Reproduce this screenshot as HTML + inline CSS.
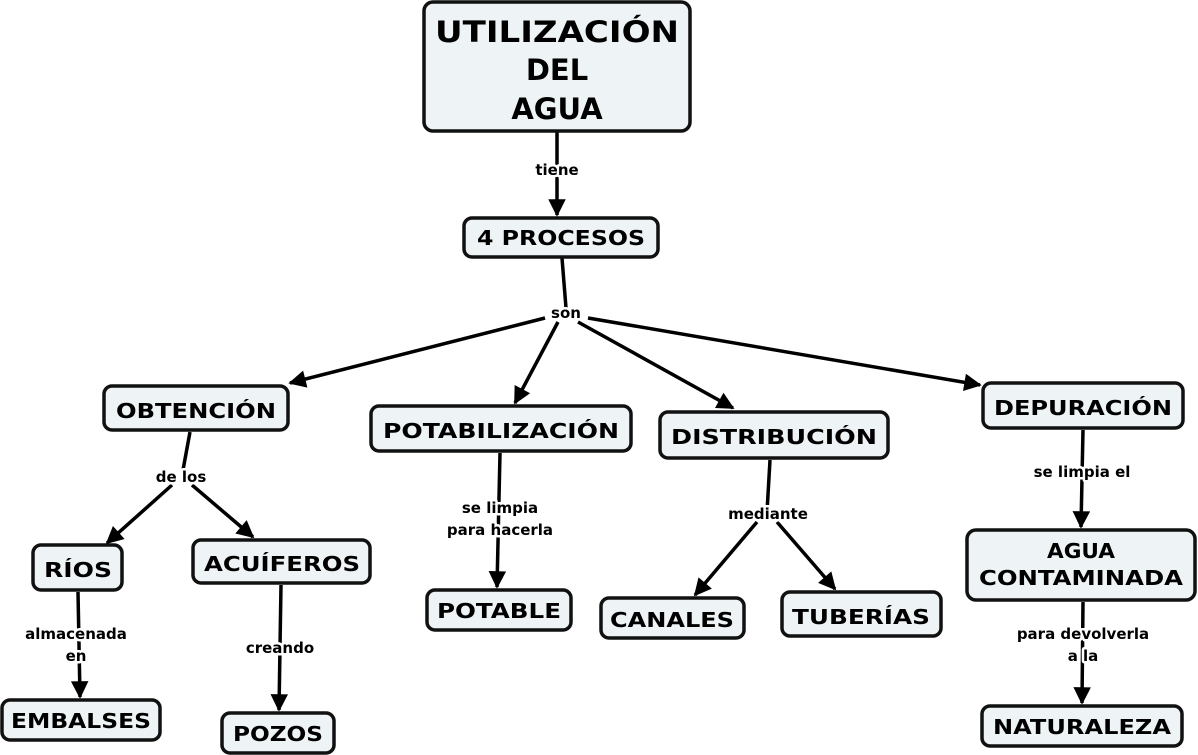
<!DOCTYPE html>
<html><head><meta charset="utf-8"><style>
html,body{margin:0;padding:0;background:#fff;}
svg{display:block;}
.b{fill:#eef3f5;stroke:#111;stroke-width:3.5;}
.t{font-family:"DejaVu Sans","Liberation Sans",sans-serif;font-weight:bold;fill:#000;text-anchor:middle;}
.n{font-size:20px;}
.l{font-size:15px;paint-order:stroke;stroke:#fff;stroke-width:5px;stroke-linejoin:round;}
.c{stroke:#000;stroke-width:3.5;fill:none;}
</style></head><body>
<svg width="1198" height="755" viewBox="0 0 1198 755" xmlns="http://www.w3.org/2000/svg">
<defs><marker id="a" viewBox="0 0 10 10" refX="9" refY="5" markerWidth="5.5" markerHeight="5" orient="auto" markerUnits="strokeWidth"><path d="M0,0 L10,5 L0,10 z" fill="#000"/></marker></defs>
<!-- connectors -->
<line class="c" x1="557" y1="131" x2="557" y2="215" marker-end="url(#a)"/>
<line class="c" x1="562" y1="258" x2="566" y2="308"/>
<line class="c" x1="545" y1="318" x2="290" y2="383" marker-end="url(#a)"/>
<line class="c" x1="558" y1="322" x2="515" y2="403" marker-end="url(#a)"/>
<line class="c" x1="578" y1="322" x2="733" y2="408" marker-end="url(#a)"/>
<line class="c" x1="588" y1="318" x2="980" y2="385" marker-end="url(#a)"/>
<line class="c" x1="190" y1="432" x2="183" y2="470"/>
<line class="c" x1="172" y1="485" x2="107" y2="543" marker-end="url(#a)"/>
<line class="c" x1="192" y1="485" x2="253" y2="537" marker-end="url(#a)"/>
<line class="c" x1="78" y1="592" x2="80" y2="697" marker-end="url(#a)"/>
<line class="c" x1="281" y1="585" x2="279" y2="710" marker-end="url(#a)"/>
<line class="c" x1="500" y1="453" x2="497" y2="587" marker-end="url(#a)"/>
<line class="c" x1="770" y1="460" x2="767" y2="512"/>
<line class="c" x1="757" y1="522" x2="695" y2="595" marker-end="url(#a)"/>
<line class="c" x1="777" y1="522" x2="835" y2="589" marker-end="url(#a)"/>
<line class="c" x1="1083" y1="430" x2="1081" y2="527" marker-end="url(#a)"/>
<line class="c" x1="1083" y1="602" x2="1082" y2="703" marker-end="url(#a)"/>
<!-- connector labels -->
<text class="t l" x="557" y="175">tiene</text>
<text class="t l" x="566" y="318">son</text>
<text class="t l" x="181" y="482">de los</text>
<text class="t l" x="76" y="639">almacenada</text>
<text class="t l" x="76" y="661">en</text>
<text class="t l" x="280" y="653">creando</text>
<text class="t l" x="500" y="513">se limpia</text>
<text class="t l" x="500" y="535">para hacerla</text>
<text class="t l" x="768" y="519">mediante</text>
<text class="t l" x="1082" y="477">se limpia el</text>
<text class="t l" x="1083" y="639">para devolverla</text>
<text class="t l" x="1083" y="661">a la</text>
<!-- nodes -->
<rect class="b" x="424" y="2" width="266" height="129" rx="9"/>
<text class="t" style="font-size:29px" x="557" y="42" textLength="244" lengthAdjust="spacingAndGlyphs">UTILIZACIÓN</text>
<text class="t" style="font-size:29px" x="557" y="80">DEL</text>
<text class="t" style="font-size:29px" x="557" y="119">AGUA</text>
<rect class="b" x="464" y="218" width="194" height="39" rx="8"/>
<text class="t n" x="561" y="245" textLength="168" lengthAdjust="spacingAndGlyphs">4 PROCESOS</text>
<rect class="b" x="104" y="386" width="184" height="44" rx="8"/>
<text class="t n" x="196" y="418" textLength="160" lengthAdjust="spacingAndGlyphs">OBTENCIÓN</text>
<rect class="b" x="371" y="406" width="260" height="45" rx="8"/>
<text class="t n" x="501" y="438" textLength="236" lengthAdjust="spacingAndGlyphs">POTABILIZACIÓN</text>
<rect class="b" x="660" y="412" width="228" height="46" rx="8"/>
<text class="t n" x="774" y="444" textLength="206" lengthAdjust="spacingAndGlyphs">DISTRIBUCIÓN</text>
<rect class="b" x="983" y="383" width="200" height="45" rx="8"/>
<text class="t n" x="1083" y="415" textLength="178" lengthAdjust="spacingAndGlyphs">DEPURACIÓN</text>
<rect class="b" x="33" y="545" width="89" height="45" rx="8"/>
<text class="t n" x="78" y="577" textLength="68" lengthAdjust="spacingAndGlyphs">RÍOS</text>
<rect class="b" x="193" y="540" width="177" height="43" rx="8"/>
<text class="t n" x="282" y="571" textLength="156" lengthAdjust="spacingAndGlyphs">ACUÍFEROS</text>
<rect class="b" x="427" y="590" width="144" height="40" rx="8"/>
<text class="t n" x="499" y="618" textLength="124" lengthAdjust="spacingAndGlyphs">POTABLE</text>
<rect class="b" x="601" y="598" width="143" height="40" rx="8"/>
<text class="t n" x="672" y="627" textLength="124" lengthAdjust="spacingAndGlyphs">CANALES</text>
<rect class="b" x="782" y="592" width="159" height="44" rx="8"/>
<text class="t n" x="861" y="624" textLength="138" lengthAdjust="spacingAndGlyphs">TUBERÍAS</text>
<rect class="b" x="967" y="530" width="228" height="70" rx="9"/>
<text class="t n" x="1081" y="558" textLength="68" lengthAdjust="spacingAndGlyphs">AGUA</text>
<text class="t n" x="1081" y="585" textLength="204" lengthAdjust="spacingAndGlyphs">CONTAMINADA</text>
<rect class="b" x="2" y="700" width="158" height="40" rx="8"/>
<text class="t n" x="81" y="728" textLength="140" lengthAdjust="spacingAndGlyphs">EMBALSES</text>
<rect class="b" x="222" y="713" width="112" height="40" rx="8"/>
<text class="t n" x="278" y="741" textLength="90" lengthAdjust="spacingAndGlyphs">POZOS</text>
<rect class="b" x="982" y="706" width="200" height="40" rx="8"/>
<text class="t n" x="1082" y="734" textLength="178" lengthAdjust="spacingAndGlyphs">NATURALEZA</text>
</svg>
</body></html>
